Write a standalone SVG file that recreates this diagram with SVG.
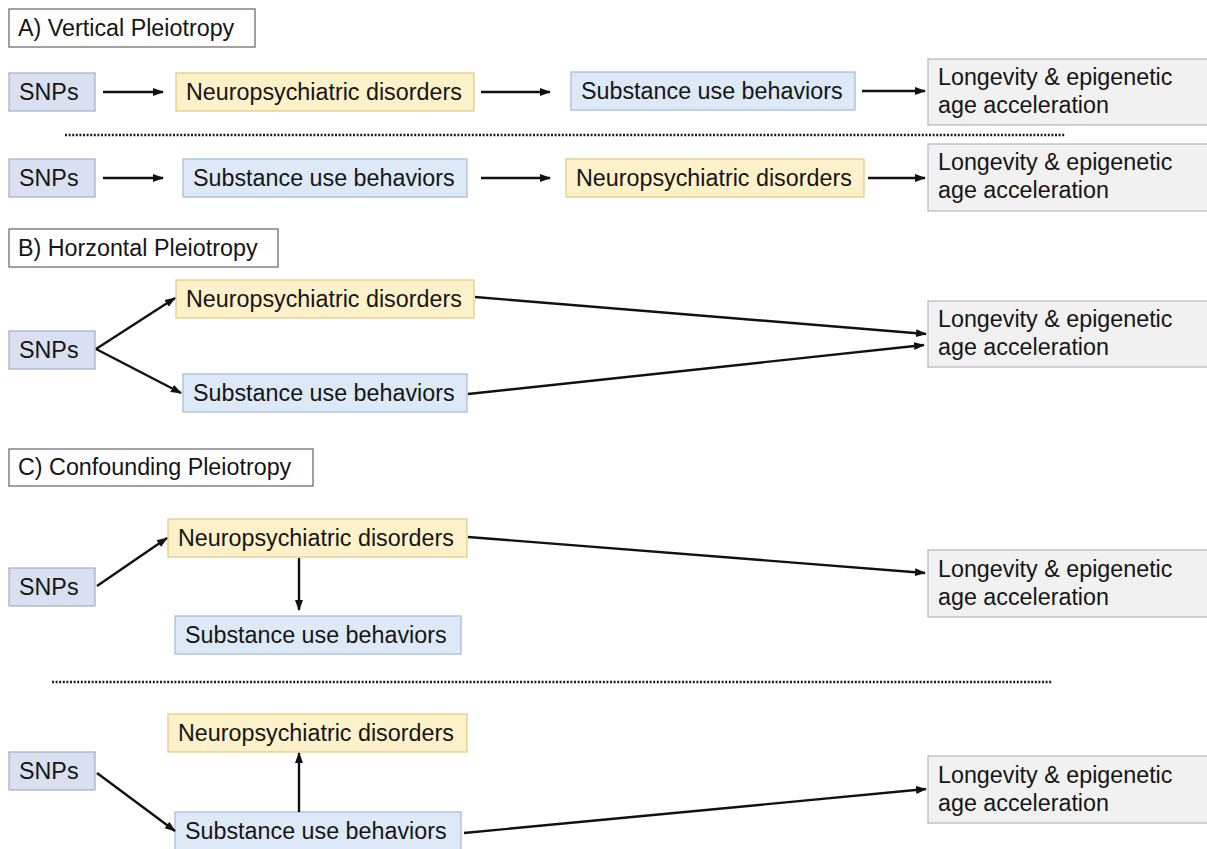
<svg xmlns="http://www.w3.org/2000/svg" width="1207" height="849" viewBox="0 0 1207 849">
<style>
  text { font-family: "Liberation Sans", Arial, Helvetica, sans-serif; font-size: 23.3px; fill: #151515; }
  .title { fill: #ffffff; stroke: #6f6f6f; stroke-width: 1.3; }
  .snp { fill: #d9e0f1; stroke: #a9b3c8; stroke-width: 1.3; }
  .sub { fill: #dde9f6; stroke: #a8bfd9; stroke-width: 1.3; }
  .neu { fill: #fdf1c9; stroke: #e3cd8c; stroke-width: 1.3; }
  .lon { fill: #f1f1f1; stroke: #bcbcbc; stroke-width: 1.3; }
  .edge { fill: none; stroke: #111111; stroke-width: 2.4; marker-end: url(#ah); }
  .dots { fill: none; stroke: #1e1e1e; stroke-width: 2.4; stroke-dasharray: 2 1.6; }
</style>
<defs>
  <marker id="ah" markerUnits="userSpaceOnUse" markerWidth="11" markerHeight="10" viewBox="0 0 11 10" refX="10" refY="5" orient="auto">
    <path d="M0,1 L11,5 L0,9 z" fill="#111111"/>
  </marker>
</defs>
<rect width="1207" height="849" fill="#ffffff"/>

<!-- Section A -->
<g id="titleA"><rect class="title" x="9" y="9" width="246" height="38"/><text x="18" y="36">A) Vertical Pleiotropy</text></g>
<g id="a1_snps"><rect class="snp" x="9" y="73" width="86" height="38"/><text x="19" y="100">SNPs</text></g>
<g id="a1_neuro"><rect class="neu" x="176" y="73" width="298" height="38"/><text x="186" y="100">Neuropsychiatric disorders</text></g>
<g id="a1_sub"><rect class="sub" x="571" y="72" width="284" height="38"/><text x="581" y="99">Substance use behaviors</text></g>
<g id="a1_lon"><rect class="lon" x="928" y="59" width="280" height="66"/><text x="938" y="85">Longevity &amp; epigenetic</text><text x="938" y="113">age acceleration</text></g>

<g id="a2_snps"><rect class="snp" x="9" y="159" width="86" height="38"/><text x="19" y="186">SNPs</text></g>
<g id="a2_sub"><rect class="sub" x="183" y="159" width="284" height="38"/><text x="193" y="186">Substance use behaviors</text></g>
<g id="a2_neuro"><rect class="neu" x="566" y="159" width="298" height="38"/><text x="576" y="186">Neuropsychiatric disorders</text></g>
<g id="a2_lon"><rect class="lon" x="928" y="144" width="280" height="67"/><text x="938" y="170">Longevity &amp; epigenetic</text><text x="938" y="198">age acceleration</text></g>

<!-- Section B -->
<g id="titleB"><rect class="title" x="9" y="229" width="269" height="38"/><text x="18" y="256">B) Horzontal Pleiotropy</text></g>
<g id="b_snps"><rect class="snp" x="9" y="331" width="86" height="38"/><text x="19" y="358">SNPs</text></g>
<g id="b_neuro"><rect class="neu" x="176" y="280" width="298" height="38"/><text x="186" y="307">Neuropsychiatric disorders</text></g>
<g id="b_sub"><rect class="sub" x="183" y="374" width="284" height="38"/><text x="193" y="401">Substance use behaviors</text></g>
<g id="b_lon"><rect class="lon" x="928" y="301" width="280" height="66"/><text x="938" y="327">Longevity &amp; epigenetic</text><text x="938" y="355">age acceleration</text></g>

<!-- Section C -->
<g id="titleC"><rect class="title" x="9" y="449" width="304" height="37"/><text x="18" y="475">C) Confounding Pleiotropy</text></g>
<g id="c1_snps"><rect class="snp" x="9" y="568" width="86" height="38"/><text x="19" y="595">SNPs</text></g>
<g id="c1_neuro"><rect class="neu" x="168" y="519" width="299" height="38"/><text x="178" y="546">Neuropsychiatric disorders</text></g>
<g id="c1_sub"><rect class="sub" x="175" y="616" width="286" height="38"/><text x="185" y="643">Substance use behaviors</text></g>
<g id="c1_lon"><rect class="lon" x="928" y="550" width="280" height="67"/><text x="938" y="577">Longevity &amp; epigenetic</text><text x="938" y="605">age acceleration</text></g>

<g id="c2_neuro"><rect class="neu" x="168" y="714" width="299" height="38"/><text x="178" y="741">Neuropsychiatric disorders</text></g>
<g id="c2_snps"><rect class="snp" x="9" y="752" width="86" height="38"/><text x="19" y="779">SNPs</text></g>
<g id="c2_sub"><rect class="sub" x="175" y="812" width="286" height="40"/><text x="185" y="839">Substance use behaviors</text></g>
<g id="c2_lon"><rect class="lon" x="928" y="756" width="280" height="67"/><text x="938" y="783">Longevity &amp; epigenetic</text><text x="938" y="811">age acceleration</text></g>

<!-- Connectors -->
<g id="connectors">
  <line class="dots" x1="65" y1="135" x2="1065" y2="135"/>
  <line class="dots" x1="52" y1="682" x2="1052" y2="682"/>

  <line class="edge" x1="103" y1="92" x2="163" y2="92"/>
  <line class="edge" x1="481" y1="92" x2="550" y2="92"/>
  <line class="edge" x1="862" y1="91" x2="925" y2="91"/>

  <line class="edge" x1="103" y1="178" x2="163" y2="178"/>
  <line class="edge" x1="481" y1="178" x2="550" y2="178"/>
  <line class="edge" x1="868" y1="178" x2="925" y2="178"/>

  <line class="edge" x1="96" y1="349" x2="175" y2="298"/>
  <line class="edge" x1="96" y1="349" x2="181" y2="393"/>
  <line class="edge" x1="475" y1="297" x2="926" y2="334"/>
  <line class="edge" x1="468" y1="394" x2="924" y2="345"/>

  <line class="edge" x1="97" y1="586" x2="167" y2="538"/>
  <line class="edge" x1="468" y1="537" x2="925" y2="573"/>
  <line class="edge" x1="299" y1="558" x2="299" y2="610"/>

  <line class="edge" x1="299" y1="812" x2="299" y2="753"/>
  <line class="edge" x1="97" y1="773" x2="175" y2="831"/>
  <line class="edge" x1="464" y1="833" x2="926" y2="789"/>
</g>
</svg>
